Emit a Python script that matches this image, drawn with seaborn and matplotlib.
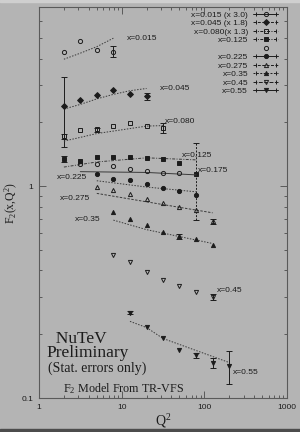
import numpy as np
import pandas as pd
import matplotlib
matplotlib.use("Agg")
import matplotlib.pyplot as plt
import seaborn as sns
from matplotlib.lines import Line2D
from matplotlib.legend_handler import HandlerLine2D, HandlerTuple
from matplotlib.patches import Rectangle
from matplotlib.ticker import LogLocator, NullFormatter

q2_015 = [2.0, 3.16, 5.0, 7.94]
f2_015 = [4.28, 4.84, 4.40, 4.31]
err_015 = [0, 0, 0, 0.25]

q2_045 = [2.0, 3.16, 5.0, 7.94, 12.6, 20.0]
f2_045 = [2.40, 2.55, 2.70, 2.84, 2.73, 2.65]
err_045 = [0.87, 0, 0, 0, 0, 0.09]

q2_080 = [2.0, 3.16, 5.0, 7.94, 12.6, 20.0, 31.6]
f2_080 = [1.72, 1.84, 1.85, 1.93, 1.98, 1.93, 1.89]
err_080 = [0.05, 0, 0.04, 0, 0, 0, 0.10]

q2_125 = [2.0, 3.16, 5.0, 7.94, 12.6, 20.0, 31.6, 50.0, 79.4]
f2_125 = [1.34, 1.32, 1.375, 1.375, 1.375, 1.35, 1.34, 1.29, 1.14]
err_125 = [0.04, 0, 0, 0, 0, 0, 0, 0, 0.45]

q2_175 = [3.16, 5.0, 7.94, 12.6, 20.0, 31.6, 50.0]
f2_175 = [1.27, 1.27, 1.24, 1.21, 1.18, 1.15, 1.15]
err_175 = [0, 0, 0, 0, 0, 0, 0]

q2_225 = [5.0, 7.94, 12.6, 20.0, 31.6, 50.0, 79.4]
f2_225 = [1.14, 1.083, 1.064, 1.019, 0.982, 0.950, 0.904]
err_225 = [0, 0, 0, 0, 0, 0, 0]

q2_275 = [5.0, 7.94, 12.6, 20.0, 31.6, 50.0, 79.4, 126.0]
f2_275 = [0.992, 0.957, 0.920, 0.868, 0.834, 0.793, 0.773, 0.684]
err_275 = [0, 0, 0, 0, 0, 0, 0, 0.018]

q2_35 = [7.94, 12.6, 20.0, 31.6, 50.0, 79.4, 126.0]
f2_35 = [0.751, 0.696, 0.652, 0.608, 0.580, 0.560, 0.526]
err_35 = [0, 0, 0, 0, 0.015, 0, 0]

q2_45 = [7.94, 12.6, 20.0, 31.6, 50.0, 79.4, 126.0]
f2_45 = [0.472, 0.439, 0.395, 0.360, 0.339, 0.315, 0.300]
err_45 = [0, 0, 0, 0, 0, 0, 0.01]

q2_55 = [12.6, 20.0, 31.6, 50.0, 79.4, 126.0, 200.0]
f2_55 = [0.252, 0.216, 0.191, 0.169, 0.159, 0.147, 0.142]
err_55 = [0.004, 0, 0, 0, 0.004, 0.008, 0.025]

# TR-VFS model curves
mq2_015 = [2.0, 3.16, 5.0, 7.94]
mf2_015 = [3.97, 4.24, 4.55, 4.99]
mq2_045 = [2.0, 3.16, 5.0, 7.94, 12.6, 20.0]
mf2_045 = [2.31, 2.43, 2.58, 2.71, 2.82, 2.89]
mq2_080 = [2.0, 5.0, 20.0, 31.6]
mf2_080 = [1.63, 1.77, 1.92, 1.93]
mq2_125 = [2.0, 5.0, 20.0, 79.4]
mf2_125 = [1.23, 1.30, 1.36, 1.33]
mq2_175 = [3.16, 20.0, 79.4]
mf2_175 = [1.17, 1.16, 1.13]
mq2_225 = [5.0, 20.0, 79.4]
mf2_225 = [1.06, 0.99, 0.94]
mq2_275 = [5.0, 20.0, 126.0]
mf2_275 = [0.924, 0.843, 0.748]
mq2_35 = [7.94, 20.0, 126.0]
mf2_35 = [0.691, 0.623, 0.536]
mq2_55 = [12.6, 20.0, 31.6, 200.0]
mf2_55 = [0.230, 0.215, 0.191, 0.147]

legend_labels = ["x=0.015 (x 3.0)", "x=0.045 (x 1.8)", "x=0.080(x 1.3)", "x=0.125", "",
                 "x=0.225", "x=0.275", "x=0.35", "x=0.45", "x=0.55"]
curve_labels = ["x=0.015", "x=0.045", "x=0.080", "x=0.125", "x=0.175",
                "x=0.225", "x=0.275", "x=0.35", "x=0.45", "x=0.55"]
xtick_vals = [1, 10, 100, 1000]
xtick_labels = ["1", "10", "100", "1000"]
ytick_vals = [0.1, 1]
ytick_labels = ["0.1", "1"]

BG = "#b4b4b4"
INK = "#1c1c1c"
AXC = "#5a5a5a"

sns.set_theme(style="ticks")
plt.rcParams['font.family'] = ['Liberation Sans', 'DejaVu Sans']
plt.rcParams['mathtext.default'] = 'regular'

# marker / line style per series (same order as legend)
dots = (0, (1.5, 1.5))
styles = [
    dict(m="o", fill=False, lls="-", mls=dots),
    dict(m="D", fill=True, lls=(0, (3, 1.5)), mls=dots),
    dict(m="s", fill=False, lls=(0, (3, 1.5, 1, 1.5)), mls=dots),
    dict(m="s", fill=True, lls=(0, (3, 1.5, 1, 1.5)), mls=(0, (3, 1.5, 1, 1.5))),
    dict(m="o", fill=False, lls="none", mls="-"),
    dict(m="o", fill=True, lls="-", mls=dots),
    dict(m="^", fill=False, lls=(0, (3, 1.5)), mls=(0, (2.5, 1.5))),
    dict(m="^", fill=True, lls=(0, (2, 1.5)), mls=dots),
    dict(m="v", fill=False, lls=(0, (4, 1.5)), mls=dots),
    dict(m="v", fill=True, lls="-", mls=dots),
]

points = [(q2_015, f2_015, err_015), (q2_045, f2_045, err_045), (q2_080, f2_080, err_080),
          (q2_125, f2_125, err_125), (q2_175, f2_175, err_175), (q2_225, f2_225, err_225),
          (q2_275, f2_275, err_275), (q2_35, f2_35, err_35), (q2_45, f2_45, err_45),
          (q2_55, f2_55, err_55)]
models = [(mq2_015, mf2_015), (mq2_045, mf2_045), (mq2_080, mf2_080), (mq2_125, mf2_125),
          (mq2_175, mf2_175), (mq2_225, mf2_225), (mq2_275, mf2_275), (mq2_35, mf2_35),
          None, (mq2_55, mf2_55)]

# where the x= labels sit next to their curves (Q2, F2)
label_pos = [(11.6, 5.0), (29.0, 2.9), (33.4, 2.01), (53.1, 1.40), (84.4, 1.19),
             (1.64, 1.10), (1.79, 0.875), (2.73, 0.698), (140.8, 0.323), (223.5, 0.132)]

fig = plt.figure(figsize=(3.0, 4.32), dpi=100, facecolor=BG)
ax = fig.add_axes([0.13, 0.0787, 0.8267, 0.905], facecolor=BG)
ax.set_xscale("log")
ax.set_yscale("log")

for i, st in enumerate(styles):
    if models[i] is not None:
        mdf = pd.DataFrame({"q2": models[i][0], "f2": models[i][1]})
        sns.lineplot(data=mdf, x="q2", y="f2", ax=ax, color="#3a3a3a", lw=0.7,
                     linestyle=st["mls"], legend=False)
    q, f, e = (np.array(a, dtype=float) for a in points[i])
    m = e > 0
    if m.any():
        eb = ax.errorbar(q[m], f[m], yerr=e[m], fmt="none", ecolor=INK,
                         elinewidth=0.7, capsize=2.2, capthick=0.7)
        if i == 3:
            eb[2][0].set_linestyle((0, (2, 1.5)))
    ax.plot(q, f, ls="none", marker=st["m"], ms=3.0,
            mfc=INK if st["fill"] else "none", mec=INK, mew=0.7)
    ax.text(label_pos[i][0], label_pos[i][1], curve_labels[i], fontsize=6,
            color=INK, ha="left", va="center")

ax.set_xlim(1, 1000)
ax.set_ylim(0.1, 7.0)
ax.set_xticks(xtick_vals, xtick_labels)
ax.set_yticks(ytick_vals, ytick_labels)
ax.xaxis.set_minor_locator(LogLocator(base=10, subs=np.arange(2, 10)))
ax.yaxis.set_minor_locator(LogLocator(base=10, subs=np.arange(2, 10)))
ax.xaxis.set_minor_formatter(NullFormatter())
ax.yaxis.set_minor_formatter(NullFormatter())
ax.tick_params(which="both", direction="in", top=True, right=True,
               color=AXC, width=0.7, labelsize=6, labelcolor=INK, pad=4)
ax.tick_params(which="major", length=5)
ax.tick_params(which="minor", length=2.5)
for sp in ax.spines.values():
    sp.set_color(AXC)
    sp.set_linewidth(0.8)

ax.set_xlabel("Q$^2$", fontsize=10, family="Liberation Serif", color=INK)
ax.xaxis.set_label_coords(0.5, -0.036)
ax.set_ylabel("F$_2$(x,Q$^2$)", fontsize=8.5, family="Liberation Serif", color=INK)
ax.yaxis.set_label_coords(-0.077, 0.50)

# legend: marker + line + end caps, text to the left
handles = []
hmap = {}
for i, st in enumerate(styles):
    body = Line2D([], [], color=INK, lw=0.7, ls=st["lls"], marker=st["m"], ms=3.0,
                  mfc=INK if st["fill"] else "none", mec=INK, mew=0.7)
    if st["lls"] == "none":
        handles.append(body)
        continue
    caps = Line2D([], [], color=INK, ls="none", marker="|", ms=3.5, mew=0.7)
    hmap[caps] = HandlerLine2D(numpoints=2)
    handles.append((body, caps))
hmap[tuple] = HandlerTuple(ndivide=1, pad=0)
leg = ax.legend(handles, legend_labels, handler_map=hmap, loc="upper right",
                bbox_to_anchor=(0.964, 0.99), frameon=False, markerfirst=False,
                fontsize=6, handlelength=3.0, handletextpad=0.6, labelspacing=0.08,
                handleheight=0.7, borderaxespad=0, borderpad=0, numpoints=1)
for t in leg.get_texts():
    t.set_color(INK)

ax.text(0.032, 0.106, "  NuTeV\nPreliminary", transform=ax.transAxes, fontsize=12.5,
        family="Liberation Serif", color=INK, ha="left", va="baseline",
        linespacing=0.8)
ax.text(0.036, 0.067, "(Stat. errors only)", transform=ax.transAxes, fontsize=10,
        family="Liberation Serif", color=INK, ha="left", va="baseline")
ax.text(0.097, 0.016, "F$_2$ Model From TR-VFS", transform=ax.transAxes, fontsize=8.7,
        family="Liberation Serif", color=INK, ha="left", va="baseline")

# scanned-page edges
fig.patches.append(Rectangle((0, 0), 1, 3 / 432, transform=fig.transFigure,
                             color="#4c4c4c", zorder=-1))
fig.patches.append(Rectangle((0, 1 - 1.5 / 432), 1, 1.5 / 432, transform=fig.transFigure,
                             color="#cfcfcf", zorder=-1))

fig.savefig("out.png", dpi=100, facecolor=BG)
